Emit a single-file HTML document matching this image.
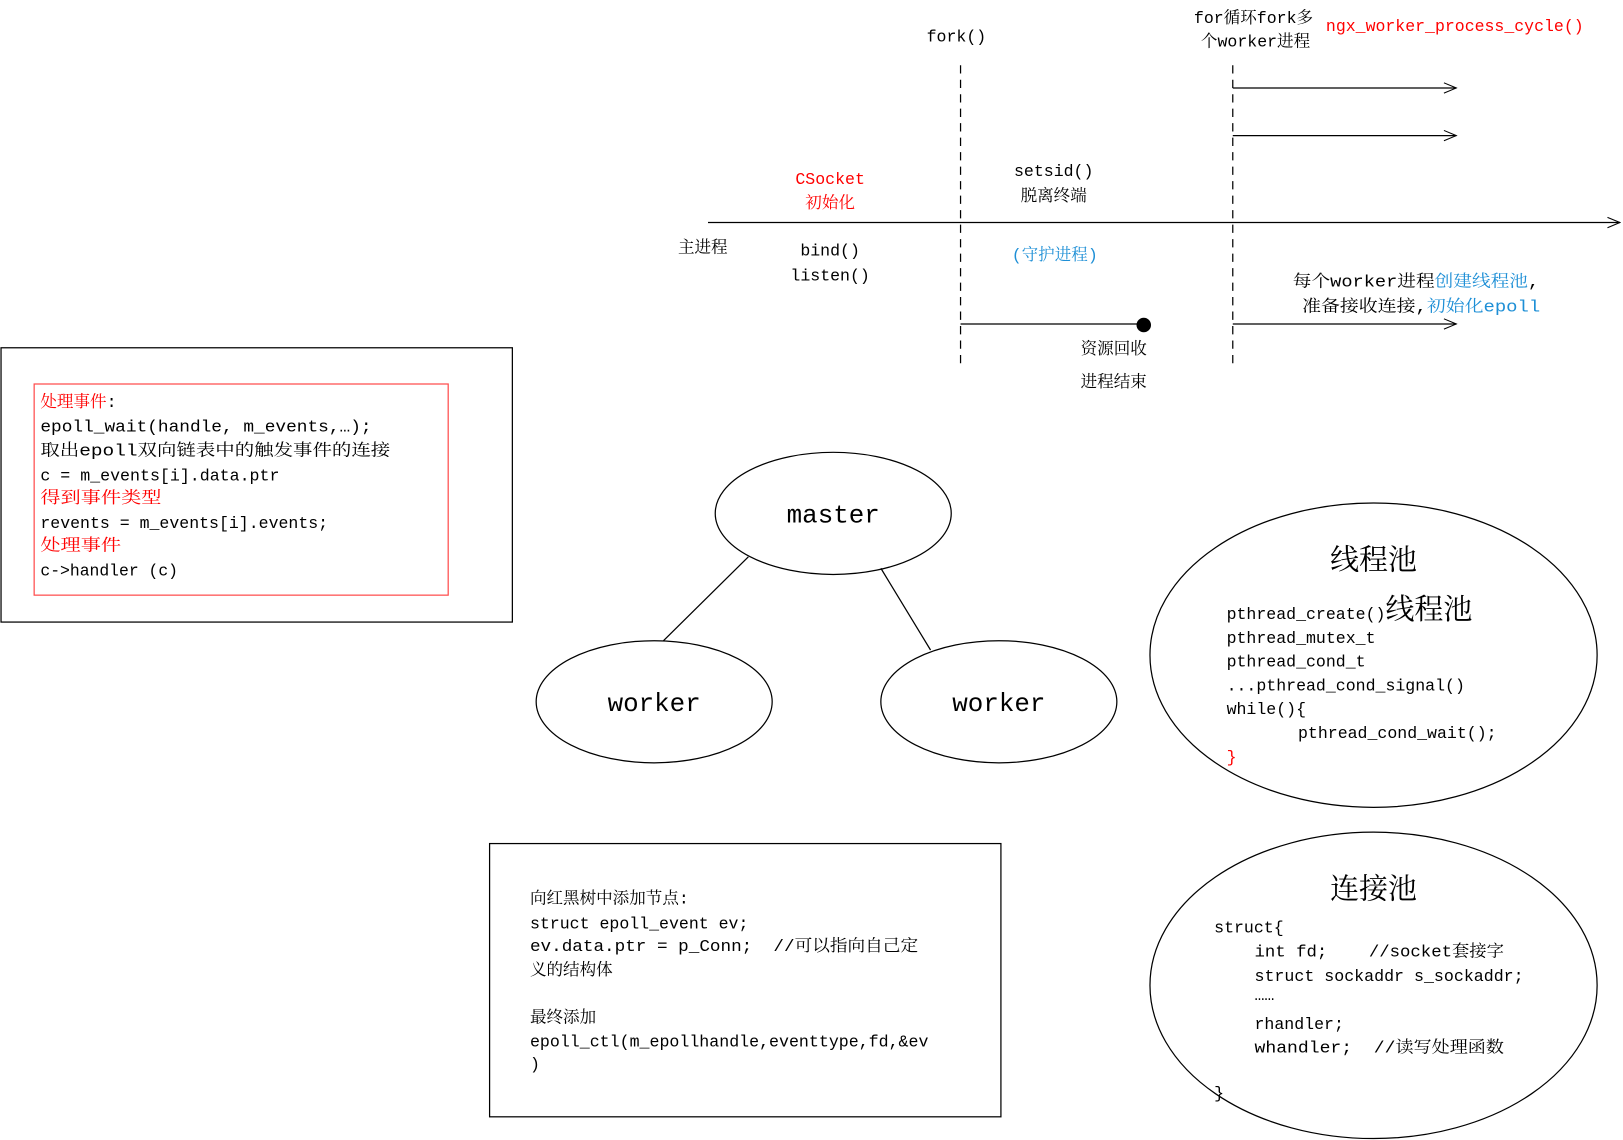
<!DOCTYPE html>
<html><head><meta charset="utf-8"><style>
html,body{margin:0;padding:0;background:#fff;}
svg{display:block;}
text{font-family:"Liberation Mono","Noto Serif CJK SC",monospace;font-size:16px;fill:#000;white-space:pre;}
.r{fill:#ff0000;}
.b{fill:#1e8fd6;}
.big{font-family:"Liberation Serif","Noto Serif CJK SC",serif;font-size:28px;}
.mid{font-family:"Liberation Mono","Noto Serif CJK SC",monospace;font-size:25px;}
</style></head><body>
<svg width="1623" height="1140" viewBox="0 0 1568 1101.4" preserveAspectRatio="none" xmlns="http://www.w3.org/2000/svg" xml:space="preserve">
<defs>
<marker id="a" markerWidth="14" markerHeight="12" refX="13" refY="6" orient="auto" markerUnits="userSpaceOnUse">
<path d="M1,1 L13,6 L1,11" fill="none" stroke="#000" stroke-width="1"/>
</marker>
</defs>
<g stroke="#000" stroke-width="1.2" fill="none">
<line x1="684" y1="215" x2="1565" y2="215" marker-end="url(#a)"/>
<line x1="928" y1="63" x2="928" y2="355" stroke-dasharray="8,6"/>
<line x1="1191" y1="63" x2="1191" y2="355" stroke-dasharray="8,6"/>
<line x1="1191" y1="85" x2="1407" y2="85" marker-end="url(#a)"/>
<line x1="1191" y1="131" x2="1407" y2="131" marker-end="url(#a)"/>
<line x1="1191" y1="313" x2="1407" y2="313" marker-end="url(#a)"/>
<line x1="928" y1="313" x2="1100" y2="313"/>
<rect x="1" y="336" width="494" height="265"/>
<rect x="33" y="371" width="400" height="204" stroke="#ff4d4d"/>
<ellipse cx="805" cy="496" rx="114" ry="59"/>
<ellipse cx="632" cy="678" rx="114" ry="59"/>
<ellipse cx="965" cy="678" rx="114" ry="59"/>
<line x1="723" y1="538" x2="641" y2="619"/>
<line x1="851" y1="549" x2="899" y2="628"/>
<ellipse cx="1327" cy="633" rx="216" ry="147"/>
<ellipse cx="1327" cy="952" rx="216" ry="148"/>
<rect x="473" y="815" width="494" height="264"/>
</g>
<circle cx="1105" cy="314" r="7" fill="#000"/>

<text x="924" y="40" text-anchor="middle">fork()</text>
<text x="1211" y="22" text-anchor="middle">for循环fork多</text>
<text x="1213" y="45" text-anchor="middle">个worker进程</text>
<text x="1281" y="30" class="r" textLength="249" lengthAdjust="spacingAndGlyphs">ngx_worker_process_cycle()</text>
<text x="802" y="178" text-anchor="middle" class="r">CSocket</text>
<text x="802" y="201" text-anchor="middle" class="r">初始化</text>
<text x="1018" y="170" text-anchor="middle">setsid()</text>
<text x="1018" y="194" text-anchor="middle">脱离终端</text>
<text x="655" y="244">主进程</text>
<text x="802" y="247" text-anchor="middle">bind()</text>
<text x="802" y="271" text-anchor="middle">listen()</text>
<text x="1019" y="251" text-anchor="middle" class="b">(守护进程)</text>
<text x="1249" y="277" textLength="238" lengthAdjust="spacingAndGlyphs">每个worker进程<tspan class="b">创建线程池</tspan>,</text>
<text x="1258" y="301" textLength="230" lengthAdjust="spacingAndGlyphs">准备接收连接,<tspan class="b">初始化epoll</tspan></text>
<text x="1076" y="342" text-anchor="middle">资源回收</text>
<text x="1076" y="374" text-anchor="middle">进程结束</text>

<text x="39" y="393" class="r">处理事件<tspan style="fill:#000">:</tspan></text>
<text x="39" y="417" textLength="320" lengthAdjust="spacingAndGlyphs">epoll_wait(handle, m_events,…);</text>
<text x="39" y="440" textLength="338" lengthAdjust="spacingAndGlyphs">取出epoll双向链表中的触发事件的连接</text>
<text x="39" y="464" textLength="231" lengthAdjust="spacingAndGlyphs">c = m_events[i].data.ptr</text>
<text x="39" y="486" class="r" textLength="117" lengthAdjust="spacingAndGlyphs">得到事件类型</text>
<text x="39" y="510" textLength="278" lengthAdjust="spacingAndGlyphs">revents = m_events[i].events;</text>
<text x="39" y="532" class="r" textLength="78" lengthAdjust="spacingAndGlyphs">处理事件</text>
<text x="39" y="556" textLength="133" lengthAdjust="spacingAndGlyphs">c-&gt;handler (c)</text>

<text x="805" y="505" text-anchor="middle" class="mid">master</text>
<text x="632" y="687" text-anchor="middle" class="mid">worker</text>
<text x="965" y="687" text-anchor="middle" class="mid">worker</text>

<text x="1327" y="550" text-anchor="middle" class="big">线程池</text>
<text x="1185" y="598">pthread_create()<tspan class="big">线程池</tspan></text>
<text x="1185" y="621">pthread_mutex_t</text>
<text x="1185" y="644">pthread_cond_t</text>
<text x="1185" y="667">...pthread_cond_signal()</text>
<text x="1185" y="690">while(){</text>
<text x="1254" y="713">pthread_cond_wait();</text>
<text x="1185" y="736" class="r">}</text>

<text x="1327" y="868" text-anchor="middle" class="big">连接池</text>
<text x="1173" y="901">struct{</text>
<text x="1212" y="924" textLength="241" lengthAdjust="spacingAndGlyphs">int fd;    //socket套接字</text>
<text x="1212" y="948" textLength="260" lengthAdjust="spacingAndGlyphs">struct sockaddr s_sockaddr;</text>
<text x="1212" y="966">……</text>
<text x="1212" y="994">rhandler;</text>
<text x="1212" y="1017" textLength="241" lengthAdjust="spacingAndGlyphs">whandler;  //读写处理函数</text>
<text x="1173" y="1061">}</text>

<text x="512" y="873">向红黑树中添加节点:</text>
<text x="512" y="897">struct epoll_event ev;</text>
<text x="512" y="919" textLength="375" lengthAdjust="spacingAndGlyphs">ev.data.ptr = p_Conn;  //可以指向自己定</text>
<text x="512" y="942">义的结构体</text>
<text x="512" y="988">最终添加</text>
<text x="512" y="1011" textLength="385" lengthAdjust="spacingAndGlyphs">epoll_ctl(m_epollhandle,eventtype,fd,&amp;ev</text>
<text x="512" y="1033">)</text>
</svg>
</body></html>
